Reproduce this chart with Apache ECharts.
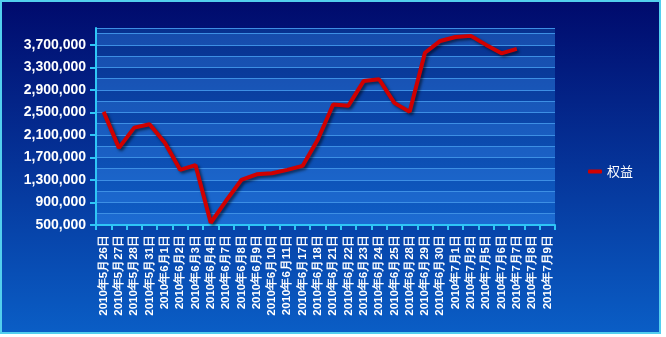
<!DOCTYPE html>
<html><head><meta charset="utf-8">
<script src="https://cdn.jsdelivr.net/npm/echarts@6/dist/echarts.min.js"></script>
<style>html,body{margin:0;padding:0;background:#ffffff}#c{width:661px;height:334px}</style>
</head><body><div id="c"></div>
<script>
const categories = ['2010年5月26日','2010年5月27日','2010年5月28日','2010年5月31日','2010年6月1日','2010年6月2日','2010年6月3日','2010年6月4日','2010年6月7日','2010年6月8日','2010年6月9日','2010年6月10日','2010年6月11日','2010年6月17日','2010年6月18日','2010年6月21日','2010年6月22日','2010年6月23日','2010年6月24日','2010年6月25日','2010年6月28日','2010年6月29日','2010年6月30日','2010年7月1日','2010年7月2日','2010年7月5日','2010年7月6日','2010年7月7日','2010年7月8日','2010年7月9日'];
const equity = [2510000,1870000,2230000,2290000,1960000,1480000,1565000,540000,930000,1300000,1400000,1420000,1480000,1550000,2020000,2640000,2620000,3060000,3090000,2670000,2510000,3560000,3770000,3840000,3860000,3700000,3550000,3630000,null,null];
const seriesName = '权益';
const yTicks = [500000,900000,1300000,1700000,2100000,2500000,2900000,3300000,3700000];
const yMin = 500000, yMax = 4000000, gridStep = 200000;

function fmt(v){ return String(v).replace(/\B(?=(\d{3})+(?!\d))/g, ','); }

const chart = echarts.init(document.getElementById('c'));
const cyan = '#2fc6f6';
chart.setOption({
  backgroundColor: {type:'linear',x:0,y:0,x2:0,y2:1,colorStops:[{offset:0,color:'#000a6c'},{offset:1,color:'#0a5ec6'}]},
  animation:false,
  graphic:[{type:'rect',shape:{x:1,y:1,width:659,height:332},style:{fill:'none',stroke:'#52cfee',lineWidth:2},z:100}],
  grid:{left:96,top:28,right:106,bottom:109,show:true,borderWidth:0,
    backgroundColor:{type:'linear',x:0,y:0,x2:0,y2:1,colorStops:[{offset:0,color:'#07308e'},{offset:1,color:'#0f5ec6'}]}},
  legend:{data:[{name:seriesName,icon:'roundRect'}],left:583,top:160,itemWidth:14,itemHeight:4,itemGap:6,
    textStyle:{color:'#ffffff',fontSize:13,fontFamily:'Noto Sans CJK SC'}},
  xAxis:{type:'category',data:categories,boundaryGap:true,
    axisLine:{lineStyle:{color:cyan,width:2}},
    axisTick:{show:true,length:5,lineStyle:{color:cyan,width:2}},
    axisLabel:{rotate:90,interval:0,color:'#ffffff',fontWeight:'bold',fontSize:11.5,fontFamily:'Liberation Sans, Arial',margin:10},
    splitLine:{show:false}},
  yAxis:[{type:'value',min:yMin,max:yMax,interval:gridStep,
    axisLine:{show:true,lineStyle:{color:cyan,width:2}},
    axisTick:{show:false},axisLabel:{show:false},
    splitLine:{show:true,lineStyle:{color:'#3d8fe4',width:1}},
    splitArea:{show:true,areaStyle:{color:['rgba(60,140,240,0.30)','rgba(0,0,0,0)']}}},
   {type:'value',min:yMin,max:yMax,position:'left',
    axisLine:{show:false},
    axisTick:{show:true,length:6,customValues:yTicks,lineStyle:{color:cyan,width:2}},
    axisLabel:{color:'#ffffff',fontWeight:'bold',fontSize:14,fontFamily:'Liberation Sans, Arial',margin:10,
      customValues:yTicks,formatter:function(v){return fmt(v);}},
    splitLine:{show:false},splitArea:{show:false}}],
  series:[{name:seriesName,type:'line',data:equity,yAxisIndex:0,symbol:'none',
    lineStyle:{color:'#d00000',width:4,shadowColor:'rgba(0,0,0,0.55)',shadowBlur:3,shadowOffsetX:2,shadowOffsetY:2},
    itemStyle:{color:'#d00000'}}]
});
</script></body></html>
